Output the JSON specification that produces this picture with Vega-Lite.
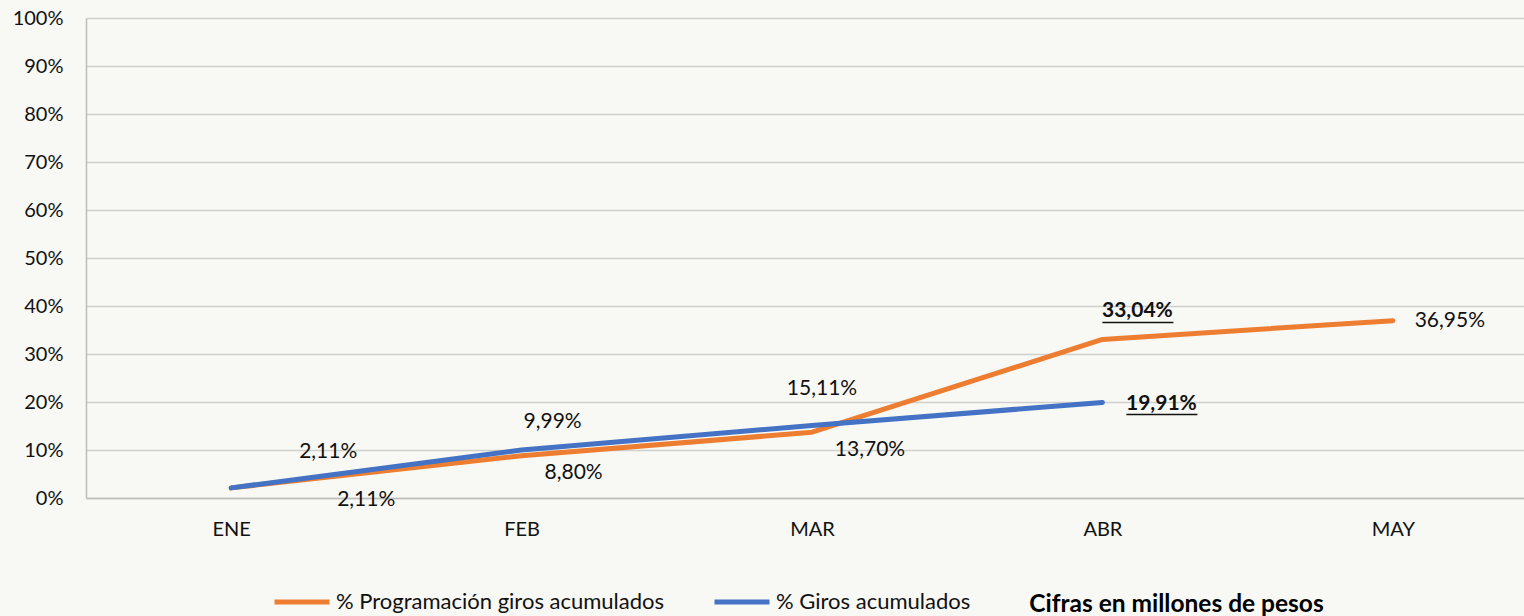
{
  "$schema": "https://vega.github.io/schema/vega-lite/v6.json",
  "width": 1438,
  "height": 480,
  "autosize": {"type": "none"},
  "padding": {"left": 86, "top": 18, "right": 0, "bottom": 118},
  "background": "#F8F8F4",
  "config": {
    "view": {"stroke": null},
    "font": "Lato",
    "text": {"font": "Lato", "fontSize": 21, "color": "#111111"}
  },
  "data": {
    "values": [
      {"mes": "ENE", "serie": "% Programación giros acumulados", "valor": 0.0211, "etiqueta": "2,11%"},
      {"mes": "FEB", "serie": "% Programación giros acumulados", "valor": 0.088, "etiqueta": "8,80%"},
      {"mes": "MAR", "serie": "% Programación giros acumulados", "valor": 0.137, "etiqueta": "13,70%"},
      {"mes": "ABR", "serie": "% Programación giros acumulados", "valor": 0.3304, "etiqueta": "33,04%"},
      {"mes": "MAY", "serie": "% Programación giros acumulados", "valor": 0.3695, "etiqueta": "36,95%"},
      {"mes": "ENE", "serie": "% Giros acumulados", "valor": 0.0211, "etiqueta": "2,11%"},
      {"mes": "FEB", "serie": "% Giros acumulados", "valor": 0.0999, "etiqueta": "9,99%"},
      {"mes": "MAR", "serie": "% Giros acumulados", "valor": 0.1511, "etiqueta": "15,11%"},
      {"mes": "ABR", "serie": "% Giros acumulados", "valor": 0.1991, "etiqueta": "19,91%"}
    ]
  },
  "encoding": {
    "x": {
      "field": "mes", "type": "ordinal",
      "sort": ["ENE", "FEB", "MAR", "ABR", "MAY"],
      "scale": {"type": "point", "padding": 0.5, "range": [0, 1452]},
      "axis": {
        "title": "Cifras en millones de pesos",
        "titleFont": "Lato", "titleFontSize": 24.5, "titleFontWeight": "bold", "titleColor": "#000000",
        "titleX": 1090, "titleY": 106, "titleAlign": "center", "titleBaseline": "middle", "titleAnchor": null,
        "labelAngle": 0, "labelFont": "Lato", "labelFontSize": 20, "labelColor": "#111111",
        "labelBaseline": "middle", "labelPadding": 31,
        "ticks": false, "tickSize": 0,
        "domainColor": "#BDBDBD", "domainWidth": 1.5,
        "grid": false
      }
    },
    "y": {
      "field": "valor", "type": "quantitative",
      "scale": {"domain": [0, 1], "nice": false},
      "axis": {
        "title": null, "format": ".0%",
        "values": [0, 0.1, 0.2, 0.3, 0.4, 0.5, 0.6, 0.7, 0.8, 0.9, 1],
        "labelFont": "Lato", "labelFontSize": 20, "labelColor": "#111111",
        "labelPadding": 23, "ticks": false, "tickSize": 0,
        "domainColor": "#BDBDBD", "domainWidth": 1.5,
        "gridColor": "#CFCFCB", "gridWidth": 1.5
      }
    }
  },
  "layer": [
    {
      "mark": {"type": "line", "strokeWidth": 5, "strokeCap": "round", "strokeJoin": "round"},
      "encoding": {
        "color": {
          "field": "serie", "type": "nominal",
          "scale": {"domain": ["% Programación giros acumulados", "% Giros acumulados"], "range": ["#ED7D31", "#4472C4"]},
          "legend": {
            "title": null, "orient": "none", "direction": "horizontal",
            "legendX": 186, "legendY": 554,
            "symbolType": "stroke", "symbolSize": 3025, "symbolStrokeWidth": 5,
            "labelFont": "Lato", "labelFontSize": 22, "labelColor": "#111111",
            "labelOffset": 4, "columnPadding": 39, "labelLimit": 500
          }
        }
      }
    },
    {
      "transform": [{"filter": "datum.mes == 'ENE' && datum.serie == '% Programación giros acumulados'"}],
      "mark": {"type": "text", "dx": 135, "dy": 12, "align": "center", "baseline": "middle"},
      "encoding": {"text": {"field": "etiqueta"}}
    },
    {
      "transform": [{"filter": "datum.mes == 'ENE' && datum.serie == '% Giros acumulados'"}],
      "mark": {"type": "text", "dx": 97, "dy": -36, "align": "center", "baseline": "middle"},
      "encoding": {"text": {"field": "etiqueta"}}
    },
    {
      "transform": [{"filter": "datum.mes == 'FEB' && datum.serie == '% Giros acumulados'"}],
      "mark": {"type": "text", "dx": 31, "dy": -28, "align": "center", "baseline": "middle"},
      "encoding": {"text": {"field": "etiqueta"}}
    },
    {
      "transform": [{"filter": "datum.mes == 'FEB' && datum.serie == '% Programación giros acumulados'"}],
      "mark": {"type": "text", "dx": 52, "dy": 17, "align": "center", "baseline": "middle"},
      "encoding": {"text": {"field": "etiqueta"}}
    },
    {
      "transform": [{"filter": "datum.mes == 'MAR' && datum.serie == '% Giros acumulados'"}],
      "mark": {"type": "text", "dx": 10, "dy": -36, "align": "center", "baseline": "middle"},
      "encoding": {"text": {"field": "etiqueta"}}
    },
    {
      "transform": [{"filter": "datum.mes == 'MAR' && datum.serie == '% Programación giros acumulados'"}],
      "mark": {"type": "text", "dx": 58, "dy": 18, "align": "center", "baseline": "middle"},
      "encoding": {"text": {"field": "etiqueta"}}
    },
    {
      "transform": [{"filter": "datum.mes == 'ABR' && datum.serie == '% Programación giros acumulados'"}],
      "mark": {"type": "text", "dx": 35, "dy": -28, "align": "center", "baseline": "middle", "fontWeight": "bold"},
      "encoding": {"text": {"field": "etiqueta"}}
    },
    {
      "transform": [{"filter": "datum.mes == 'ABR' && datum.serie == '% Giros acumulados'"}],
      "mark": {"type": "text", "dx": 59, "dy": 1.5, "align": "center", "baseline": "middle", "fontWeight": "bold"},
      "encoding": {"text": {"field": "etiqueta"}}
    },
    {
      "transform": [{"filter": "datum.mes == 'MAY' && datum.serie == '% Programación giros acumulados'"}],
      "mark": {"type": "text", "dx": 57, "dy": 0, "align": "center", "baseline": "middle"},
      "encoding": {"text": {"field": "etiqueta"}}
    },
    {
      "transform": [{"filter": "datum.mes == 'ABR' && datum.serie == '% Programación giros acumulados'"}],
      "mark": {"type": "rule", "color": "#111111", "strokeWidth": 1.5, "xOffset": 0, "x2Offset": 71, "yOffset": -17, "y2Offset": -17},
      "encoding": {"x2": {"field": "mes"}, "y2": {"field": "valor"}}
    },
    {
      "transform": [{"filter": "datum.mes == 'ABR' && datum.serie == '% Giros acumulados'"}],
      "mark": {"type": "rule", "color": "#111111", "strokeWidth": 1.5, "xOffset": 24, "x2Offset": 95, "yOffset": 12, "y2Offset": 12},
      "encoding": {"x2": {"field": "mes"}, "y2": {"field": "valor"}}
    }
  ]
}
